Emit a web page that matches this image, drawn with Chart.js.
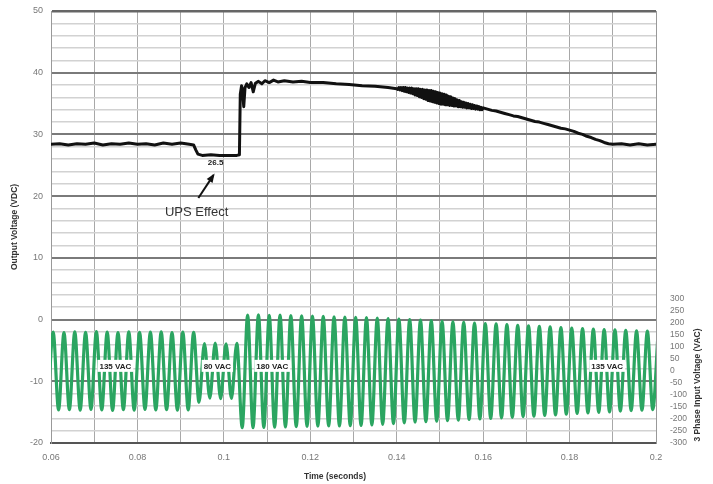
<!DOCTYPE html>
<html>
<head>
<meta charset="utf-8">
<script src="https://cdn.jsdelivr.net/npm/chart.js@4/dist/chart.umd.min.js"></script>
<style>
html,body{margin:0;padding:0;background:#fff;}
canvas{display:block;}
</style>
</head>
<body>
<canvas id="c" width="713" height="484"></canvas>
<script>
// ---- Output voltage (VDC), black trace ----
const outT1 = [0.0600,0.0620,0.0640,0.0660,0.0680,0.0700,0.0720,0.0740,0.0760,0.0780,0.0800,0.0820,0.0840,0.0860,0.0880,0.0900,0.0920,0.0930,0.0935,0.0940,0.0950,0.0970,0.0990,0.1010,0.1030,0.1036,0.1038,0.1041,0.1043,0.1046,0.1049,0.1053,0.1058,0.1063,0.1068,0.1073,0.1080,0.1088,0.1095,0.1105,0.1115,0.1125,0.1140,0.1160,0.1180,0.1200,0.1230,0.1260,0.1290,0.1320,0.1350,0.1380,0.1400];
const outV1 = [28.4,28.5,28.3,28.5,28.4,28.6,28.3,28.5,28.4,28.6,28.4,28.5,28.3,28.6,28.4,28.6,28.4,28.3,27.5,26.8,26.6,26.7,26.6,26.6,26.6,26.7,36.5,37.9,37.2,34.5,37.6,38.2,37.6,38.4,36.9,38.3,38.6,38.2,38.7,38.4,38.8,38.5,38.7,38.5,38.6,38.4,38.4,38.2,38.1,37.9,37.8,37.6,37.4];
// noisy band 0.140 - 0.160
const bandT = [0.14025,0.14050,0.14075,0.14100,0.14125,0.14150,0.14175,0.14200,0.14225,0.14250,0.14275,0.14300,0.14325,0.14350,0.14375,0.14400,0.14425,0.14450,0.14475,0.14500,
0.14525,0.14550,0.14575,0.14600,0.14625,0.14650,0.14675,0.14700,0.14725,0.14750,0.14775,0.14800,0.14825,0.14850,0.14875,0.14900,0.14925,0.14950,0.14975,0.15000,
0.15025,0.15050,0.15075,0.15100,0.15125,0.15150,0.15175,0.15200,0.15225,0.15250,0.15275,0.15300,0.15325,0.15350,0.15375,0.15400,0.15425,0.15450,0.15475,0.15500,
0.15525,0.15550,0.15575,0.15600,0.15625,0.15650,0.15675,0.15700,0.15725,0.15750,0.15775,0.15800,0.15825,0.15850,0.15875,0.15900,0.15925,0.15950,0.15975,0.16000];
const bandV = [37.3,37.6,37.2,37.6,37.1,37.6,37.0,37.6,36.9,37.5,36.8,37.5,36.7,37.5,36.6,37.4,36.4,37.4,36.3,37.4,
36.1,37.3,36.0,37.3,35.8,37.2,35.7,37.2,35.5,37.1,35.4,37.1,35.3,37.0,35.2,36.9,35.1,36.8,35.0,36.7,
34.9,36.6,34.9,36.5,34.8,36.4,34.8,36.2,34.7,36.1,34.7,35.9,34.6,35.8,34.6,35.6,34.5,35.5,34.5,35.3,
34.4,35.2,34.4,35.1,34.3,35.0,34.3,34.9,34.2,34.8,34.2,34.7,34.1,34.6,34.1,34.5,34.0,34.4,34.0,34.3];
const outT2 = [0.161,0.162,0.163,0.164,0.165,0.166,0.167,0.168,0.169,0.170,0.171,0.172,0.173,0.174,0.175,0.176,0.177,0.178,0.179,0.180,0.181,0.182,0.183,0.184,0.185,0.186,0.187,0.188,0.189,0.190,0.192,0.194,0.196,0.198,0.200];
const outV2 = [34.1,33.9,33.8,33.6,33.4,33.2,33.0,32.9,32.7,32.5,32.3,32.1,32.0,31.8,31.6,31.4,31.2,31.0,30.9,30.7,30.5,30.2,30.0,29.7,29.5,29.2,29.0,28.7,28.5,28.4,28.5,28.3,28.5,28.3,28.4];

// ---- 3 phase input voltage (VAC), green trace: successive extremes ----
const waveStart = 0.05925;      // time of first trough
const halfPeriod = 0.00125;     // spacing between successive extremes
const wavePeaks = [162,160,163,161,164,162,160,163,161,162,163,160,162,
  161,
  114,116,113,115,
  233,234,232,233,231,230,229,228,226,225,224,222,220,218,216,214,212,210,207,205,203,200,198,196,193,190,188,186,184,181,179,177,175,173,171,169,167,166,165];
const waveTroughs = [-160,-162,-161,-163,-160,-162,-164,-161,-163,-160,-162,-161,-163,-162,
  -130,
  -113,-115,-114,
  -236,
  -236,-235,-234,-233,-232,-231,-230,-229,-229,-228,-227,-225,-222,-219,-216,-213,-211,-209,-207,-205,-202,-200,-198,-195,-193,-190,-188,-185,-183,-180,-177,-175,-172,-170,-167,-165,-163,-161];

// ---- axis ticks ----
const xMin = 0.06, xMax = 0.2, xStep = 0.01;
const yMin = -20, yMax = 50, yStep = 2;
const y2Min = -300, y2Max = 1500, y2Step = 50, y2LabelTop = 300;

// ---- text ----
const leftTitle = 'Output Voltage (VDC)';
const rightTitle = '3 Phase Input Voltage (VAC)';
const bottomTitle = 'Time (seconds)';
const waveLabels = [['135 VAC',0.0749],['80 VAC',0.0985],['180 VAC',0.1112],['135 VAC',0.1887]];
const dipLabel = '26.5';
const effectLabel = 'UPS Effect';

const outT = outT1.concat(bandT, outT2);
const outV = outV1.concat(bandV, outV2);
const outData = outT.map((t,i)=>({x:t,y:outV[i]}));
const waveData = [];
for (let i=0;i<waveTroughs.length+wavePeaks.length;i++){
  const v = (i%2===0) ? waveTroughs[i/2] : wavePeaks[(i-1)/2];
  if (v===undefined) continue;
  waveData.push({x: waveStart + i*halfPeriod, y: v});
}

const FONT = "'Liberation Sans', Arial, sans-serif";

const annot = {
  id:'annot',
  afterDatasetsDraw(chart){
    const {ctx, scales:{x,y}} = chart;
    ctx.save();
    ctx.font = 'bold 8px ' + FONT;
    ctx.textAlign='center'; ctx.textBaseline='middle';
    const ly = y.getPixelForValue(-7.5);
    waveLabels.forEach(([txt,t])=>{
      const px = x.getPixelForValue(t);
      const w = ctx.measureText(txt).width + 4;
      ctx.fillStyle='#fff';
      ctx.fillRect(px-w/2, ly-6, w, 12);
      ctx.fillStyle='#222';
      ctx.fillText(txt, px, ly+0.5);
    });
    ctx.font = 'bold 8px ' + FONT;
    ctx.fillStyle='#222';
    ctx.fillText(dipLabel, x.getPixelForValue(0.0981), y.getPixelForValue(25.4));
    const ax0 = x.getPixelForValue(0.0941), ay0 = y.getPixelForValue(19.7);
    const ax1 = x.getPixelForValue(0.0976), ay1 = y.getPixelForValue(23.4);
    ctx.strokeStyle='#111'; ctx.lineWidth=2;
    ctx.beginPath(); ctx.moveTo(ax0,ay0); ctx.lineTo(ax1,ay1); ctx.stroke();
    const ang = Math.atan2(ay1-ay0, ax1-ax0);
    ctx.fillStyle='#111';
    ctx.beginPath();
    ctx.moveTo(ax1+2*Math.cos(ang), ay1+2*Math.sin(ang));
    ctx.lineTo(ax1-7*Math.cos(ang)+3.5*Math.sin(ang), ay1-7*Math.sin(ang)-3.5*Math.cos(ang));
    ctx.lineTo(ax1-7*Math.cos(ang)-3.5*Math.sin(ang), ay1-7*Math.sin(ang)+3.5*Math.cos(ang));
    ctx.closePath(); ctx.fill();
    ctx.font = '13px ' + FONT;
    ctx.fillStyle='#333';
    ctx.fillText(effectLabel, x.getPixelForValue(0.0937), y.getPixelForValue(17.4));
    ctx.restore();
  },
  afterDraw(chart){
    const {ctx, chartArea} = chart;
    ctx.save();
    ctx.font = 'bold 8.5px ' + FONT;
    ctx.fillStyle = '#333';
    ctx.textAlign='center'; ctx.textBaseline='middle';
    ctx.save(); ctx.translate(15, (chartArea.top+chartArea.bottom)/2); ctx.rotate(-Math.PI/2);
    ctx.fillText(leftTitle,0,0); ctx.restore();
    ctx.save(); ctx.translate(698, 385); ctx.rotate(-Math.PI/2);
    ctx.fillText(rightTitle,0,0); ctx.restore();
    ctx.fillText(bottomTitle, 335, 477);
    ctx.restore();
  }
};

new Chart(document.getElementById('c'), {
  type:'line',
  data:{
    datasets:[
      {label:'Output', data:outData, yAxisID:'y', borderColor:'#111', borderWidth:3, pointRadius:0, tension:0, borderJoinStyle:'round', borderCapStyle:'round'},
      {label:'Input', data:waveData, yAxisID:'y2', borderColor:'#2ba561', borderWidth:3.2, pointRadius:0, cubicInterpolationMode:'monotone'}
    ]
  },
  options:{
    responsive:false, animation:false, devicePixelRatio:1,
    layout:{padding:{top:11,left:0,right:0,bottom:0}},
    plugins:{legend:{display:false}, tooltip:{enabled:false}},
    scales:{
      x:{type:'linear', min:xMin, max:xMax,
        afterFit(s){ s.height = 41; s.paddingLeft = 0; s.paddingRight = 0; },
        ticks:{stepSize:xStep, autoSkip:false, maxRotation:0, padding:9, color:'#777', font:{family:FONT,size:9},
          callback(v){ const k=Math.round(v*100); return k%2===0 ? String(k/100) : ''; }},
        grid:{color:'#a8a8a8', lineWidth:1, drawTicks:false},
        border:{color:'#555', width:2}
      },
      y:{type:'linear', position:'left', min:yMin, max:yMax,
        afterFit(s){ s.width = 51; s.paddingTop = 0; s.paddingBottom = 0; },
        ticks:{stepSize:yStep, autoSkip:false, padding:8, color:'#777', font:{family:FONT,size:9},
          callback(v){ return Math.round(v)%10===0 ? String(Math.round(v)) : ''; }},
        grid:{drawTicks:false,
          color(c){ const v=c.tick.value; return v===50 ? '#666' : (v%10===0 ? '#7a7a7a' : '#d2d2d2'); },
          lineWidth(c){ const v=c.tick.value; return v===50 ? 2.5 : (v%10===0 ? 2 : 1.5); }},
        border:{color:'#999', width:1}
      },
      y2:{type:'linear', position:'right', min:y2Min, max:y2Max,
        afterFit(s){ s.width = 57; s.paddingTop = 0; s.paddingBottom = 0; },
        ticks:{stepSize:y2Step, autoSkip:false, padding:14, color:'#777', font:{family:FONT,size:8.5},
          callback(v){ return v<=y2LabelTop ? String(v) : ''; }},
        grid:{display:false, drawTicks:false},
        border:{color:'#999', width:1}
      }
    }
  },
  plugins:[annot]
});
</script>
</body>
</html>
